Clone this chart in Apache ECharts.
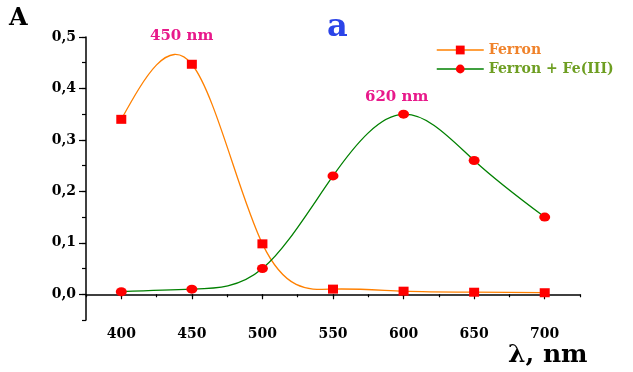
<!DOCTYPE html>
<html><head><meta charset="utf-8">
<script src="https://cdn.jsdelivr.net/npm/echarts@6/dist/echarts.min.js"></script>
<style>html,body{margin:0;padding:0;background:#fff}#c{width:633px;height:372px}</style>
</head><body><div id="c"></div>
<script>
var wavelengths = [400, 450, 500, 550, 600, 650, 700];
var ferron = [0.34, 0.447, 0.098, 0.010, 0.006, 0.004, 0.003];
var ferronFe = [0.005, 0.010, 0.050, 0.230, 0.350, 0.260, 0.150];
var seriesNames = ['Ferron', 'Ferron + Fe(III)'];
var xLabels = [400, 450, 500, 550, 600, 650, 700];
var yLabels = [0, 0.1, 0.2, 0.3, 0.4, 0.5];

var serif = '"DejaVu Serif", "Liberation Serif", serif';
var ORANGE = '#ff8000', GREEN = '#008000', RED = '#ff0000';
var chart = echarts.init(document.getElementById('c'));
function pairs(v){ return wavelengths.map(function(w,i){return [w, v[i]];}); }

// natural cubic spline (drawing style of the connecting line), computed in pixel space
function splineSegments(pts){
  var n = pts.length - 1, h = [], i;
  for (i = 0; i < n; i++) h.push(pts[i+1][0] - pts[i][0]);
  var a = [], b = [], c = [], r = [];
  for (i = 0; i <= n; i++) {
    if (i === 0 || i === n) { a.push(0); b.push(1); c.push(0); r.push(0); }
    else {
      a.push(h[i-1]); b.push(2*(h[i-1]+h[i])); c.push(h[i]);
      r.push(6*((pts[i+1][1]-pts[i][1])/h[i] - (pts[i][1]-pts[i-1][1])/h[i-1]));
    }
  }
  for (i = 1; i <= n; i++) { var m = a[i]/b[i-1]; b[i] -= m*c[i-1]; r[i] -= m*r[i-1]; }
  var M = new Array(n+1);
  M[n] = r[n]/b[n];
  for (i = n-1; i >= 0; i--) M[i] = (r[i] - c[i]*M[i+1])/b[i];
  var d = [];
  for (i = 0; i < n; i++) d.push((pts[i+1][1]-pts[i][1])/h[i] - h[i]*(2*M[i]+M[i+1])/6);
  d.push((pts[n][1]-pts[n-1][1])/h[n-1] + h[n-1]*(M[n-1]+2*M[n])/6);
  var segs = [];
  for (i = 0; i < n; i++) {
    segs.push({
      x1: pts[i][0], y1: pts[i][1], x2: pts[i+1][0], y2: pts[i+1][1],
      cpx1: pts[i][0] + h[i]/3, cpy1: pts[i][1] + d[i]*h[i]/3,
      cpx2: pts[i+1][0] - h[i]/3, cpy2: pts[i+1][1] - d[i+1]*h[i]/3
    });
  }
  return segs;
}
function curveSeries(values, color){
  return {
    type: 'custom', data: pairs(values), xAxisIndex: 0, yAxisIndex: 0, z: 2,
    silent: true,
    encode: {x: 0, y: 1},
    renderItem: function(params, api){
      if (params.dataIndex !== 0) return null;
      var pts = wavelengths.map(function(w, i){ return api.coord([w, values[i]]); });
      var segs = splineSegments(pts);
      return {
        type: 'group',
        children: segs.map(function(s){
          return {type: 'bezierCurve', shape: s, style: {stroke: color, lineWidth: 1.3, fill: null}};
        })
      };
    }
  };
}

var tickStyle = {color: '#000', width: 1.2};
var labelFont = {color: '#000', fontFamily: serif, fontWeight: 'bold', fontSize: 14};
chart.setOption({
  animation: false,
  grid: {left: 86, top: 37, right: 53, bottom: 52},
  legend: {
    orient: 'vertical', left: 431, top: 38, itemWidth: 47, itemHeight: 11, itemGap: 5,
    data: [
      {name: seriesNames[0], textStyle: {color: '#f0822a'}, lineStyle: {color: ORANGE, width: 1.5, opacity: 1}},
      {name: seriesNames[1], textStyle: {color: '#6e9e22'}, lineStyle: {color: GREEN, width: 1.5, opacity: 1}}
    ],
    textStyle: {fontFamily: serif, fontWeight: 'bold', fontSize: 14}
  },
  xAxis: [{
    type: 'value', min: 375, max: 725, interval: 25,
    axisLine: {lineStyle: {color: '#000', width: 1.5}},
    axisTick: {length: 3, lineStyle: tickStyle},
    splitLine: {show: false},
    axisLabel: Object.assign({margin: 7,
      formatter: function(v){ return xLabels.indexOf(v) >= 0 ? String(v) : ''; }}, labelFont)
  }, {
    type: 'value', min: 375, max: 725, interval: 25, position: 'bottom',
    axisLine: {show: false},
    axisTick: {show: true, length: 5, customValues: xLabels, lineStyle: tickStyle},
    axisLabel: {show: false}, splitLine: {show: false}
  }],
  yAxis: [{
    type: 'value', min: -0.05, max: 0.5, interval: 0.05,
    axisLine: {show: true, lineStyle: {color: '#000', width: 1.5}},
    axisTick: {show: true, length: 4, lineStyle: tickStyle},
    splitLine: {show: false},
    axisLabel: Object.assign({margin: 10,
      formatter: function(v){
        var r = Math.round(v*100)/100;
        for (var i=0;i<yLabels.length;i++) if (Math.abs(yLabels[i]-r)<1e-6) return r.toFixed(1).replace('.', ',');
        return '';
      }}, labelFont)
  }, {
    type: 'value', min: -0.05, max: 0.5, interval: 0.05, position: 'left',
    axisLine: {show: false},
    axisTick: {show: true, length: 7, customValues: yLabels, lineStyle: tickStyle},
    axisLabel: {show: false}, splitLine: {show: false}
  }],
  series: [
    curveSeries(ferron, ORANGE),
    curveSeries(ferronFe, GREEN),
    {name: seriesNames[0], type: 'line', data: pairs(ferron), z: 3,
     symbol: 'rect', symbolSize: [10, 9], showAllSymbol: true,
     lineStyle: {color: ORANGE, width: 1.3, opacity: 0}, itemStyle: {color: RED}},
    {name: seriesNames[1], type: 'line', data: pairs(ferronFe), z: 3,
     symbol: 'circle', symbolSize: [11, 9], showAllSymbol: true,
     lineStyle: {color: GREEN, width: 1.3, opacity: 0}, itemStyle: {color: RED}}
  ],
  graphic: [
    {type: 'text', left: 9, top: 7, style: {text: 'A', font: 'bold 24px ' + serif, fill: '#000'}},
    {type: 'text', left: 327, top: 12, style: {text: 'a', font: 'bold 32px ' + serif, fill: '#2b44e8'}},
    {type: 'text', left: 150, top: 29, style: {text: '450 nm', font: 'bold 15px ' + serif, fill: '#e8198b'}},
    {type: 'text', left: 365, top: 90, style: {text: '620 nm', font: 'bold 15px ' + serif, fill: '#e8198b'}},
    {type: 'text', left: 508, top: 343, style: {text: 'λ, nm', font: 'bold 25px ' + serif, fill: '#000'}}
  ]
});
</script></body></html>
